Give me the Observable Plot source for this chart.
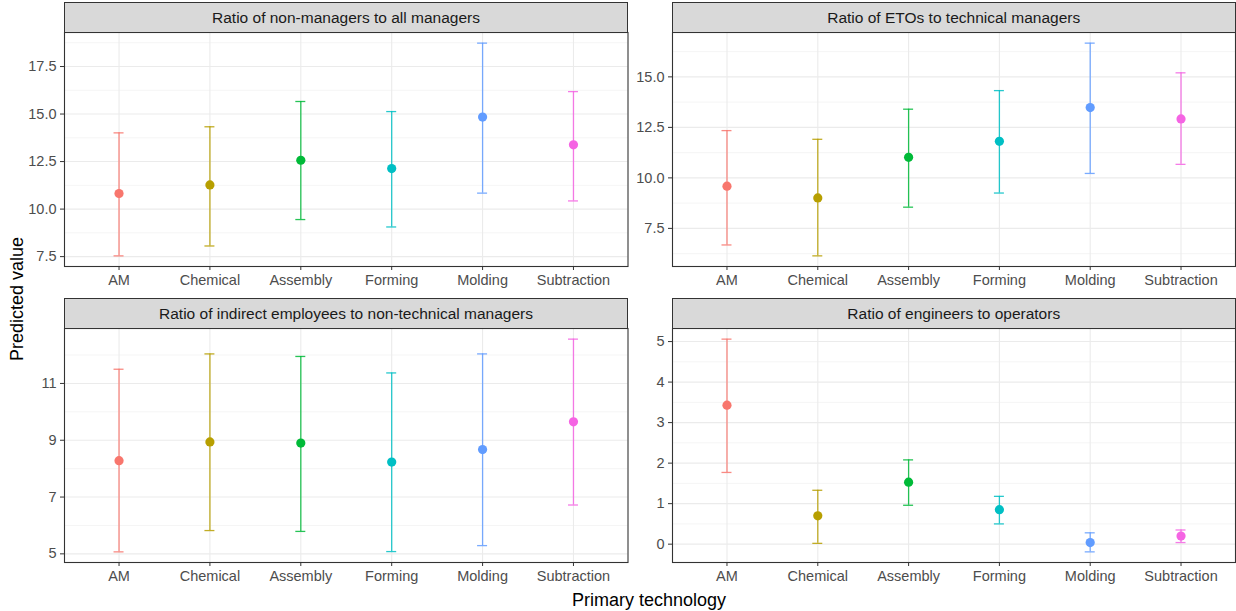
<!DOCTYPE html>
<html>
<head>
<meta charset="utf-8">
<script src="https://cdn.jsdelivr.net/npm/d3@7"></script>
<script src="https://cdn.jsdelivr.net/npm/@observablehq/plot@0.6"></script>
<style>
  body { margin: 0; background: #fff; font-family: "Liberation Sans", Arial, sans-serif; }
  #chart { position: relative; width: 1236px; height: 611px; overflow: hidden; }
  .strip {
    position: absolute; box-sizing: border-box; background: #d9d9d9; border: 1px solid #333;
    display: flex; align-items: center; justify-content: center;
    font-size: 15.5px; color: #1a1a1a;
  }
  .panel { position: absolute; }
  .axis-title { position: absolute; font-size: 18px; color: #000; white-space: nowrap; }
</style>
</head>
<body>
<div id="chart"></div>
<script>
// Primary technology categories and their ggplot-style hue colours
const technologies = ["AM", "Chemical", "Assembly", "Forming", "Molding", "Subtraction"];
const techColors = ["#F8766D", "#B79F00", "#00BA38", "#00BFC4", "#619CFF", "#F564E3"];

const panelTitles = [
  "Ratio of non-managers to all managers",
  "Ratio of ETOs to technical managers",
  "Ratio of indirect employees to non-technical managers",
  "Ratio of engineers to operators"
];

// Predicted values with lower / upper confidence limits, in technology order
const nonManagersFit   = [10.82, 11.27, 12.57, 12.13, 14.84, 13.38];
const nonManagersLower = [7.54, 8.06, 9.45, 9.06, 10.84, 10.43];
const nonManagersUpper = [14.01, 14.33, 15.66, 15.13, 18.73, 16.18];

const etoFit   = [9.59, 9.01, 11.02, 11.81, 13.48, 12.92];
const etoLower = [6.68, 6.14, 8.55, 9.25, 10.22, 10.67];
const etoUpper = [12.34, 11.91, 13.40, 14.32, 16.67, 15.20];

const indirectFit   = [8.28, 8.94, 8.90, 8.23, 8.67, 9.65];
const indirectLower = [5.07, 5.82, 5.79, 5.08, 5.29, 6.72];
const indirectUpper = [11.50, 12.04, 11.95, 11.37, 12.04, 12.56];

const engineersFit   = [3.43, 0.70, 1.53, 0.85, 0.04, 0.20];
const engineersLower = [1.77, 0.02, 0.96, 0.50, -0.19, 0.04];
const engineersUpper = [5.06, 1.33, 2.08, 1.18, 0.28, 0.35];

// Axis breaks (major labelled, minor grid only)
const nonManagersTicks = [7.5, 10, 12.5, 15, 17.5];
const nonManagersMinor = [8.75, 11.25, 13.75, 16.25, 18.75];
const etoTicks = [7.5, 10, 12.5, 15];
const etoMinor = [6.25, 8.75, 11.25, 13.75, 16.25];
const indirectTicks = [5, 7, 9, 11];
const indirectMinor = [6, 8, 10, 12];
const engineersTicks = [0, 1, 2, 3, 4, 5];
const engineersMinor = [0.5, 1.5, 2.5, 3.5, 4.5];

const chart = document.getElementById("chart");
const FONT = "'Liberation Sans', Arial, sans-serif";

function addPanel({title, fit, lower, upper, ticks, minor, fmt, left, top, width, height, ml, mr}) {
  const mt = 30, mb = 30;
  const rows = technologies.map((t, i) => ({tech: t, fit: fit[i], lo: lower[i], hi: upper[i]}));
  const lo = d3.min(lower), hi = d3.max(upper), pad = (hi - lo) * 0.05;

  const svg = Plot.plot({
    width, height,
    marginLeft: ml, marginRight: mr, marginTop: mt, marginBottom: mb,
    style: {fontFamily: FONT, fontSize: "14.5px", background: "transparent", overflow: "visible"},
    x: {type: "band", domain: technologies, paddingInner: 0.89, paddingOuter: 0.545, align: 0.5, round: false},
    y: {domain: [lo - pad, hi + pad]},
    color: {domain: technologies, range: techColors},
    marks: [
      Plot.ruleY(minor, {stroke: "#f2f2f2", strokeWidth: 0.8}),
      Plot.ruleY(ticks, {stroke: "#ebebeb", strokeWidth: 1.1}),
      Plot.ruleX(technologies, {x: d => d, stroke: "#ebebeb", strokeWidth: 1.1}),
      Plot.ruleX(rows, {x: "tech", y1: "lo", y2: "hi", stroke: "tech", strokeWidth: 1.3, strokeOpacity: 0.85}),
      Plot.tickY(rows, {x: "tech", y: "lo", stroke: "tech", strokeWidth: 1.3, strokeOpacity: 0.85}),
      Plot.tickY(rows, {x: "tech", y: "hi", stroke: "tech", strokeWidth: 1.3, strokeOpacity: 0.85}),
      Plot.dot(rows, {x: "tech", y: "fit", fill: "tech", r: 4.6}),
      Plot.frame({stroke: "#333", strokeWidth: 1.1}),
      Plot.axisY(ticks, {tickSize: 4, tickPadding: 4, stroke: "#333", color: "#4d4d4d", tickFormat: fmt, label: null}),
      Plot.axisX({tickSize: 4, tickPadding: 4, stroke: "#333", color: "#4d4d4d", label: null})
    ]
  });
  svg.classList.add("panel");
  svg.style.left = left + "px";
  svg.style.top = top + "px";
  chart.appendChild(svg);

  const strip = document.createElement("div");
  strip.className = "strip";
  strip.textContent = title;
  strip.style.left = (left + ml) + "px";
  strip.style.top = top + "px";
  strip.style.width = (width - ml - mr + 0.5) + "px";
  strip.style.height = (mt + 1) + "px";
  chart.appendChild(strip);
}

addPanel({title: panelTitles[0], fit: nonManagersFit, lower: nonManagersLower, upper: nonManagersUpper,
  ticks: nonManagersTicks, minor: nonManagersMinor, fmt: d3.format(".1f"),
  left: 0, top: 2, width: 630, height: 294, ml: 64, mr: 2.5});
addPanel({title: panelTitles[1], fit: etoFit, lower: etoLower, upper: etoUpper,
  ticks: etoTicks, minor: etoMinor, fmt: d3.format(".1f"),
  left: 630, top: 2, width: 606, height: 294, ml: 42, mr: 1});
addPanel({title: panelTitles[2], fit: indirectFit, lower: indirectLower, upper: indirectUpper,
  ticks: indirectTicks, minor: indirectMinor, fmt: d3.format("d"),
  left: 0, top: 298, width: 630, height: 294, ml: 64, mr: 2.5});
addPanel({title: panelTitles[3], fit: engineersFit, lower: engineersLower, upper: engineersUpper,
  ticks: engineersTicks, minor: engineersMinor, fmt: d3.format("d"),
  left: 630, top: 298, width: 606, height: 294, ml: 42, mr: 1});

// Shared axis titles
const xTitle = document.createElement("div");
xTitle.className = "axis-title";
xTitle.textContent = "Primary technology";
xTitle.style.left = "649px";
xTitle.style.top = "600px";
xTitle.style.transform = "translate(-50%, -50%)";
chart.appendChild(xTitle);

const yTitle = document.createElement("div");
yTitle.className = "axis-title";
yTitle.textContent = "Predicted value";
yTitle.style.left = "17px";
yTitle.style.top = "299px";
yTitle.style.transform = "translate(-50%, -50%) rotate(-90deg)";
chart.appendChild(yTitle);
</script>
</body>
</html>
